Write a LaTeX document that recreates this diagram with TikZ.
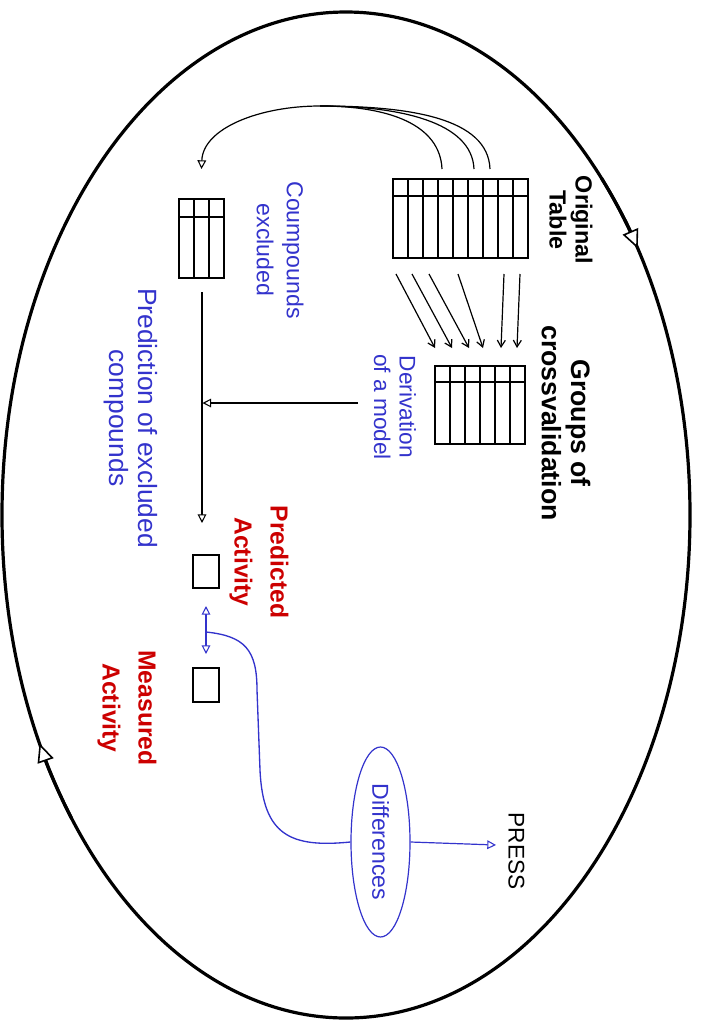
\documentclass[tikz,border=0pt]{standalone}
\usepackage{fontspec}
\setmainfont{Liberation Sans}
\usetikzlibrary{arrows.meta,shapes.geometric}
\definecolor{fblue}{RGB}{51,51,204}
\definecolor{fred}{RGB}{204,0,0}
\newcommand{\pxu}{0.75pt}
\begin{document}
\begin{tikzpicture}[x=0.75pt,y=-0.75pt,
  tbl/.style={draw, line width=1.3pt, inner sep=0pt, fill=white},
  grid/.style={line width=1.3pt},
  cyc/.style={line width=2.4pt},
  cyctip/.style={cyc, -{Triangle[length=14pt,width=12.5pt,fill=white,line width=1.2pt]}},
  flow/.style={line width=0.9pt, -{Triangle[length=6.5pt,width=6.5pt,fill=white,line width=0.8pt]}},
  bflow/.style={flow, draw=fblue},
  bboth/.style={line width=1pt, draw=fblue, {Triangle[length=6.5pt,width=6.5pt,fill=white,line width=0.8pt]}-{Triangle[length=6.5pt,width=6.5pt,fill=white,line width=0.8pt]}},
  split/.style={line width=0.9pt, -{Straight Barb[length=5pt,width=6pt]}},
  lbl/.style={rotate=-90, align=center, inner sep=0pt},
  bluetxt/.style={lbl, text=fblue},
  redtxt/.style={lbl, text=fred, font=\bfseries\fontsize{18.5}{27}\selectfont},
]
\useasboundingbox (0,0) rectangle (706,1025);

% outer cycle with its two direction marks
\draw[cyc] (346,515) ellipse [x radius=344, y radius=503];
\draw[cyctip] ([shift={(-42:344 and 503)}]346,515) arc[start angle=-42, end angle=-32, x radius=344, y radius=503];
\draw[cyctip] ([shift={(143:344 and 503)}]346,515) arc[start angle=143, end angle=153, x radius=344, y radius=503];

% original data table (9 columns)
\node[tbl, minimum width=135*\pxu, minimum height=79*\pxu] (orig) at (460.5,218.5) {};
\draw[grid] (393,196) -- (528,196);
\foreach \k in {1,...,8} \draw[grid] (393+15*\k,179) -- (393+15*\k,258);
\node[lbl, font=\bfseries\fontsize{17.5}{19.5}\selectfont] (origlbl) at (571,220) {Original\\Table};

% crossvalidation groups table (6 columns)
\node[tbl, minimum width=90*\pxu, minimum height=78*\pxu] (groups) at (480,405) {};
\draw[grid] (435,382) -- (525,382);
\foreach \k in {1,...,5} \draw[grid] (435+15*\k,366) -- (435+15*\k,444);
\node[lbl, font=\bfseries\fontsize{20}{22}\selectfont] (grouplbl) at (566,423) {Groups of\\crossvalidation};

% splitting of the table into groups
\foreach \i/\sx/\ex in {1/396/435, 2/412/452, 3/429/469, 4/458/483, 5/504/501, 6/520/517} {
  \coordinate (s\i) at (\sx,274);
  \coordinate (e\i) at (\ex,348);
  \draw[split] (s\i) -- (e\i);
}

% excluded compounds table (3 columns)
\node[tbl, minimum width=45*\pxu, minimum height=79*\pxu] (excl) at (201.5,238.5) {};
\draw[grid] (179,217) -- (224,217);
\foreach \k in {1,2} \draw[grid] (179+15*\k,199) -- (179+15*\k,278);
\node[bluetxt, font=\fontsize{17.3}{22.5}\selectfont] (excllbl) at (280,250) {Coumpounds\\excluded};

% compounds taken out of the original table
\coordinate (o1) at (442,169);
\coordinate (o2) at (474,169);
\coordinate (o3) at (490,169);
\coordinate (join) at (320,106);
\coordinate (exin) at (201.5,169);
\draw[flow] (o1) .. controls (440,125) and (390,106) .. (join) .. controls (260,106) and (203,128) .. (exin);
\draw[line width=0.9pt] (o2) .. controls (472,122) and (400,106) .. (join);
\draw[line width=0.9pt] (o3) .. controls (488,118) and (410,106) .. (join);

% model derivation
\node[bluetxt, font=\fontsize{17}{19}\selectfont] (derivlbl) at (395,407) {Derivation\\of a model};
\coordinate (mstart) at (358,403);
\coordinate (mend) at (202.5,403);
\draw[flow] (mstart) -- (mend);

% prediction of the excluded compounds
\coordinate (pstart) at (202,292);
\coordinate (pend) at (202,523);
\draw[flow] (pstart) -- (pend);
\node[bluetxt, font=\fontsize{19.8}{22}\selectfont] (predlbl) at (131,418) {Prediction of excluded\\compounds};

% predicted and measured activity
\node[tbl, minimum width=26*\pxu, minimum height=33*\pxu] (pred) at (206,571.5) {};
\node[tbl, minimum width=26*\pxu, minimum height=34*\pxu] (meas) at (206,685) {};
\node[redtxt] (predact) at (259,562) {Predicted\\Activity};
\node[redtxt] (measact) at (127,708) {Measured\\Activity};

\coordinate (da) at (206,606);
\coordinate (db) at (206,654);
\draw[bboth] (da) -- (db);

% differences and PRESS
\node[ellipse, draw=fblue, line width=0.9pt, rotate=-90, inner sep=0pt,
      minimum width=190*\pxu, minimum height=59*\pxu, text=fblue,
      font=\fontsize{17.3}{19}\selectfont] (diff) at (380.5,842) {Differences};
\coordinate (dmid) at (206,632);
\draw[line width=1pt, draw=fblue] (dmid) .. controls (245,636) and (257,650) .. (257,690)
  -- (260,770) .. controls (263,835) and (290,848) .. (diff.south);
\node[lbl, font=\fontsize{17}{19}\selectfont] (press) at (516.5,851) {PRESS};
\coordinate (pressin) at (496,845);
\draw[bflow] (diff.north) -- (pressin);
\end{tikzpicture}
\end{document}
